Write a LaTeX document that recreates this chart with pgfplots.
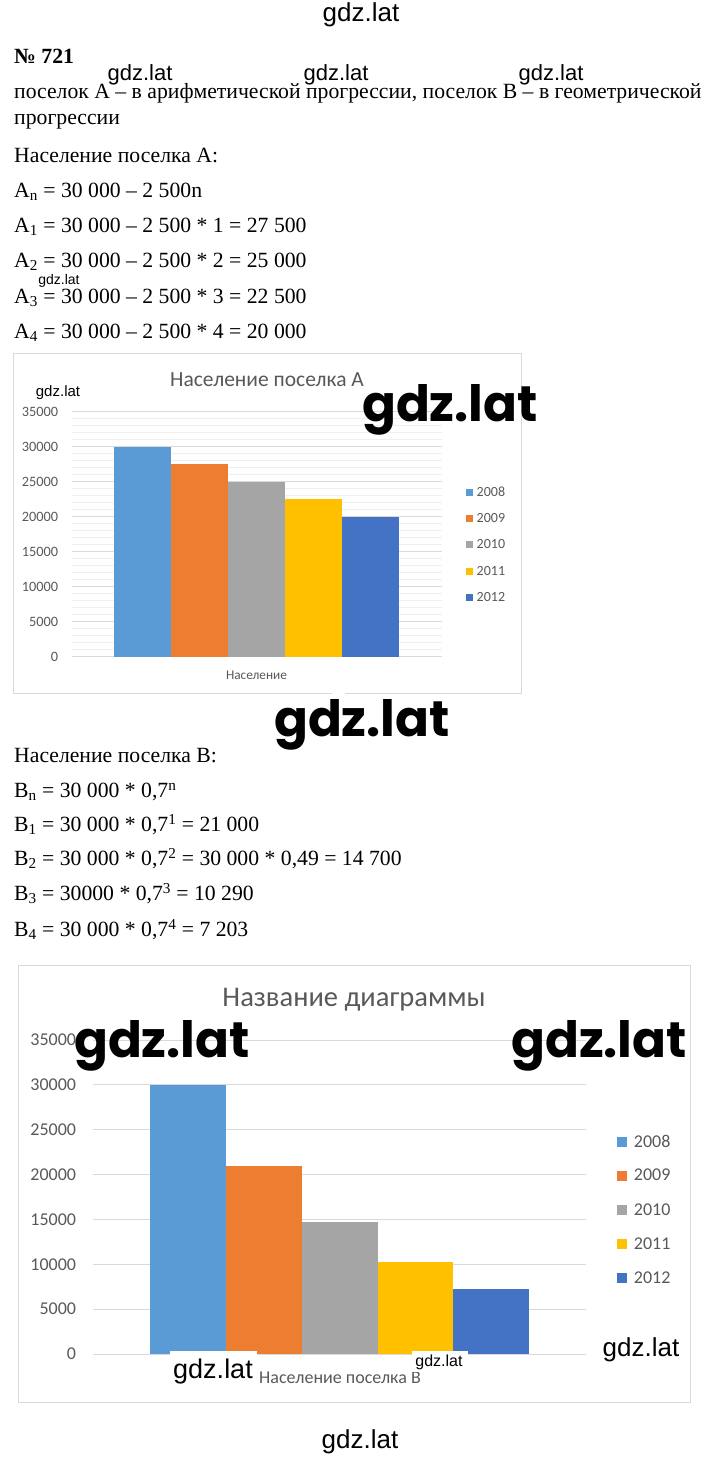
\documentclass[border=0pt]{standalone}
\usepackage{fontspec}
\setmainfont{Liberation Serif}
\newfontfamily\calib{Carlito}
\newfontfamily\wm{Liberation Sans}
\newfontfamily\wmb{Poppins}
\usepackage{pgfplots}
\pgfplotsset{compat=1.18}
\definecolor{cA}{HTML}{5B9BD5}
\definecolor{cB}{HTML}{ED7D31}
\definecolor{cC}{HTML}{A5A5A5}
\definecolor{cD}{HTML}{FFC000}
\definecolor{cE}{HTML}{4472C4}
\definecolor{txtgray}{HTML}{595959}
\definecolor{gridmaj}{HTML}{D9D9D9}
\definecolor{gridmin}{HTML}{EFEFEF}
\definecolor{framec}{HTML}{D9D9D9}
\newcommand\fs[1]{\fontsize{#1bp}{#1bp}\selectfont}
\pgfplotsset{
  sqA/.style={legend image code/.code={\fill[##1] (0bp,-3.5bp) rectangle (7bp,3.5bp);}},
  sqB/.style={legend image code/.code={\fill[##1] (0bp,-5bp) rectangle (10bp,5bp);}},
}
\begin{document}
\begin{tikzpicture}
\path[use as bounding box] (0,0) rectangle (720bp,-1457bp);
\fill[white] (0,0) rectangle (720bp,-1457bp);
\begin{scope}[x=1bp,y=-1bp]
\tikzset{tl/.style={anchor=base west, inner sep=0pt}}
\node[tl] at (14,63) {\fs{21.7}\bfseries № 721};
\node[tl] at (14,98) {\fs{21.7}поселок А – в арифметической прогрессии, поселок В – в геометрической};
\node[tl] at (14,124) {\fs{21.7}прогрессии};
\node[tl] at (14,162) {\fs{21.7}Население поселка А:};
\node[tl] at (14,197) {\fs{21.7}A\textsubscript{n} = 30 000 – 2 500n};
\node[tl] at (14,232.5) {\fs{21.7}A\textsubscript{1} = 30 000 – 2 500 * 1 = 27 500};
\node[tl] at (14,267.5) {\fs{21.7}A\textsubscript{2} = 30 000 – 2 500 * 2 = 25 000};
\node[tl] at (14,303) {\fs{21.7}A\textsubscript{3} = 30 000 – 2 500 * 3 = 22 500};
\node[tl] at (14,338) {\fs{21.7}A\textsubscript{4} = 30 000 – 2 500 * 4 = 20 000};
\node[tl] at (14,762.5) {\fs{21.7}Население поселка В:};
\node[tl] at (14,797.5) {\fs{21.7}B\textsubscript{n} = 30 000 * 0,7\textsuperscript{n}};
\node[tl] at (14,831.5) {\fs{21.7}B\textsubscript{1} = 30 000 * 0,7\textsuperscript{1} = 21 000};
\node[tl] at (14,865.5) {\fs{21.7}B\textsubscript{2} = 30 000 * 0,7\textsuperscript{2} = 30 000 * 0,49 = 14 700};
\node[tl] at (14,900.5) {\fs{21.7}B\textsubscript{3} = 30000 * 0,7\textsuperscript{3} = 10 290};
\node[tl] at (14,936.5) {\fs{21.7}B\textsubscript{4} = 30 000 * 0,7\textsuperscript{4} = 7 203};
% chart frames
\draw[framec, line width=1bp] (13,353) rectangle (521,693);
\draw[framec, line width=1bp] (18,965) rectangle (690,1402);
% chart texts
\node[text=txtgray, inner sep=0pt] at (267,380) {\calib\fs{21.5}Население поселка А};
\node[text=txtgray, inner sep=0pt] at (256.5,675) {\calib\fs{13.3}Население};
\node[text=txtgray, inner sep=0pt] at (354,1000) {\calib\fs{28.5}Название диаграммы};
\node[text=txtgray, inner sep=0pt] at (340,1378) {\calib\fs{18}Население поселка В};
\end{scope}

\begin{axis}[
  at={(71.7bp,-656.7bp)}, anchor=south west,
  scale only axis, width=370bp, height=245bp,
  ybar=0pt, bar width=57bp,
  xmin=-1, xmax=1, ymin=0, ymax=35000,
  xtick=\empty, ytick={0,5000,...,35000},
  minor y tick num=4,
  ymajorgrids, yminorgrids,
  major grid style={gridmaj, line width=0.9bp},
  minor grid style={gridmin, line width=0.7bp},
  axis line style={draw=none},
  major tick length=0pt, minor tick length=0pt,
  scaled y ticks=false,
  yticklabel style={font=\calib\fs{14.3}, text=txtgray, inner sep=0pt, xshift=-13.5bp,
    /pgf/number format/1000 sep={}, /pgf/number format/assume math mode=true},
  legend cell align=left,
  legend style={at={(1.0649,0.7249)}, anchor=north west, draw=none, fill=none,
    inner sep=0pt, outer sep=0pt, font=\calib\fs{14}, text=txtgray,
    row sep=0pt, column sep=4bp, nodes={inner sep=0pt, minimum height=26.35bp}},
]
\addplot[fill=cA, draw=none, sqA] coordinates {(0,30000)};
\addplot[fill=cB, draw=none, sqA] coordinates {(0,27500)};
\addplot[fill=cC, draw=none, sqA] coordinates {(0,25000)};
\addplot[fill=cD, draw=none, sqA] coordinates {(0,22500)};
\addplot[fill=cE, draw=none, sqA] coordinates {(0,20000)};
\legend{2008,2009,2010,2011,2012}
\end{axis}

\begin{axis}[
  at={(93.3bp,-1354bp)}, anchor=south west,
  scale only axis, width=492.7bp, height=314bp,
  ybar=0pt, bar width=75.8bp,
  xmin=-1, xmax=1, ymin=0, ymax=35000,
  xtick=\empty, ytick={0,5000,...,35000},
  ymajorgrids,
  major grid style={gridmaj, line width=1bp},
  axis line style={draw=none},
  major tick length=0pt, minor tick length=0pt,
  scaled y ticks=false,
  yticklabel style={font=\calib\fs{18}, text=txtgray, inner sep=0pt, xshift=-17bp,
    /pgf/number format/1000 sep={}, /pgf/number format/assume math mode=true},
  legend cell align=left,
  legend style={at={(1.0629,0.7306)}, anchor=north west, draw=none, fill=none,
    inner sep=0pt, outer sep=0pt, font=\calib\fs{18}, text=txtgray,
    row sep=0pt, column sep=7bp, nodes={inner sep=0pt, minimum height=34.15bp}},
]
\addplot[fill=cA, draw=none, sqB] coordinates {(0,30000)};
\addplot[fill=cB, draw=none, sqB] coordinates {(0,21000)};
\addplot[fill=cC, draw=none, sqB] coordinates {(0,14700)};
\addplot[fill=cD, draw=none, sqB] coordinates {(0,10290)};
\addplot[fill=cE, draw=none, sqB] coordinates {(0,7203)};
\legend{2008,2009,2010,2011,2012}
\end{axis}

\begin{scope}[x=1bp,y=-1bp]
% watermarks
\fill[white] (332,690) rectangle (345,696);
\node[inner sep=0pt] at (361,15) {\wm\fs{26}gdz.lat};
\node[inner sep=0pt] at (140,75) {\wm\fs{22}gdz.lat};
\node[inner sep=0pt] at (336,75) {\wm\fs{22}gdz.lat};
\node[inner sep=0pt] at (551,75) {\wm\fs{22}gdz.lat};
\node[inner sep=0pt] at (59,281) {\wm\fs{14}gdz.lat};
\node[inner sep=0pt] at (58,393) {\wm\fs{15}gdz.lat};
\node[inner sep=0pt] at (450,410) {\wmb\bfseries\fs{50}gdz.lat};
\node[inner sep=0pt] at (362,725) {\wmb\bfseries\fs{50}gdz.lat};
\node[inner sep=0pt] at (162,1046) {\wmb\bfseries\fs{50}gdz.lat};
\node[inner sep=0pt] at (599,1046) {\wmb\bfseries\fs{50}gdz.lat};
\node[inner sep=0pt] at (641,1350) {\wm\fs{26}gdz.lat};
\fill[white] (170,1351) rectangle (257,1390);
\node[inner sep=0pt] at (213,1372) {\wm\fs{27}gdz.lat};
\fill[white] (412,1351) rectangle (468,1372);
\node[inner sep=0pt] at (439,1362) {\wm\fs{16}gdz.lat};
\node[inner sep=0pt] at (360,1442) {\wm\fs{26}gdz.lat};
\end{scope}
\end{tikzpicture}
\end{document}
